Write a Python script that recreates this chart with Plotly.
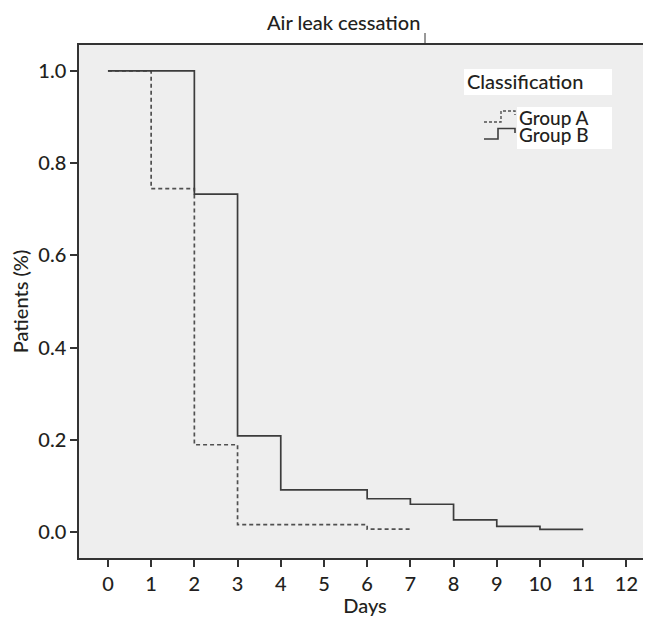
import plotly.graph_objects as go

days_a = [0, 1, 2, 3, 6, 7]
surv_a = [1.0, 0.745, 0.19, 0.017, 0.007, 0.007]
days_b = [0, 2, 3, 4, 6, 7, 8, 9, 10, 11]
surv_b = [1.0, 0.733, 0.209, 0.092, 0.073, 0.061, 0.027, 0.013, 0.0065, 0.0065]
group_names = ["Group A", "Group B"]
x_ticks = list(range(0, 13))
y_ticks = [0.0, 0.2, 0.4, 0.6, 0.8, 1.0]
y_labels = ["0.0", "0.2", "0.4", "0.6", "0.8", "1.0"]

FONT = "Lato"
WT = 500
TXT = "#231f20"
COL_A = "#505050"
COL_B = "#3c3c3c"
DASH = "4px,3px"

# the page body has an 8px margin, so the figure is shifted by it
OFF = 8
W, H = 651 - OFF, 617 - OFF
# plot box in page pixels: left 79, top 45, bottom 558, right = window edge
L, T = 79 - OFF, 45 - OFF
B = H - (558 - OFF)
R = 0
PW, PH = W - L - R, H - T - B


def px(x):
    """page pixel x -> paper fraction"""
    return (x - OFF - L) / PW


def py(y):
    """page pixel y -> paper fraction"""
    return 1 - (y - OFF - T) / PH


def f(size):
    return dict(family=FONT, size=size, color=TXT, weight=WT)


fig = go.Figure()
fig.add_trace(go.Scatter(x=days_a, y=surv_a, mode="lines", name=group_names[0],
                         line=dict(shape="hv", color=COL_A, width=1.7, dash=DASH)))
fig.add_trace(go.Scatter(x=days_b, y=surv_b, mode="lines", name=group_names[1],
                         line=dict(shape="hv", color=COL_B, width=1.7)))


def step_path(x0, y_lo, x_mid, y_hi, x1, y_end):
    return (f"M {px(x0)},{py(y_lo)} L {px(x_mid)},{py(y_lo)} L {px(x_mid)},{py(y_hi)} "
            f"L {px(x1)},{py(y_hi)} L {px(x1)},{py(y_end)}")


shapes = [
    # tiny tick under the title
    dict(type="line", xref="paper", yref="paper", x0=px(425), x1=px(425),
         y0=py(44), y1=py(33), line=dict(color="#333333", width=1)),
    # white boxes of the legend
    dict(type="rect", xref="paper", yref="paper", layer="above",
         x0=px(464), x1=px(612), y0=py(95), y1=py(69),
         fillcolor="white", line=dict(width=0)),
    dict(type="rect", xref="paper", yref="paper", layer="above",
         x0=px(517), x1=px(612), y0=py(149), y1=py(107),
         fillcolor="white", line=dict(width=0)),
    # legend symbols
    dict(type="path", xref="paper", yref="paper",
         path=step_path(484, 122, 501, 111, 515, 115),
         line=dict(color=COL_A, width=1.4, dash="3px,2px")),
    dict(type="path", xref="paper", yref="paper",
         path=step_path(484, 139, 498, 128.5, 515, 133),
         line=dict(color=COL_B, width=1.6)),
]

annotations = [
    dict(text="Air leak cessation", x=px(343), y=py(22), xref="paper", yref="paper",
         xanchor="center", yanchor="middle", showarrow=False, font=f(20)),
    dict(text="Classification", x=px(465), y=py(81), xref="paper", yref="paper",
         xanchor="left", yanchor="middle", showarrow=False, font=f(20)),
    dict(text=group_names[0], x=px(517), y=py(117.5), xref="paper", yref="paper",
         xanchor="left", yanchor="middle", showarrow=False, font=f(19)),
    dict(text=group_names[1], x=px(517), y=py(134.5), xref="paper", yref="paper",
         xanchor="left", yanchor="middle", showarrow=False, font=f(19)),
]

fig.update_layout(
    width=W, height=H,
    margin=dict(l=L, r=R, t=T, b=B, autoexpand=False),
    paper_bgcolor="white",
    plot_bgcolor="#eeeeee",
    font=f(20),
    showlegend=False,
    shapes=shapes,
    annotations=annotations,
)

fig.update_xaxes(
    range=[-0.67, 12.57], tickmode="array", tickvals=x_ticks,
    ticks="outside", ticklen=7, tickwidth=1.5, tickcolor="#333333",
    showline=True, linecolor="#333333", linewidth=1.5, mirror=True,
    showgrid=False, zeroline=False, automargin=False,
    title=dict(text="Days", standoff=4, font=f(20)),
    tickfont=f(20),
)
fig.update_yaxes(
    range=[-0.0554, 1.056], tickmode="array", tickvals=y_ticks, ticktext=y_labels,
    ticks="outside", ticklen=7, tickwidth=1.5, tickcolor="#333333",
    showline=True, linecolor="#333333", linewidth=1.5, mirror=False,
    showgrid=False, zeroline=False, automargin=False,
    title=dict(text="Patients (%)", standoff=6, font=f(20)),
    tickfont=f(20),
)

fig.write_html("out.html")
